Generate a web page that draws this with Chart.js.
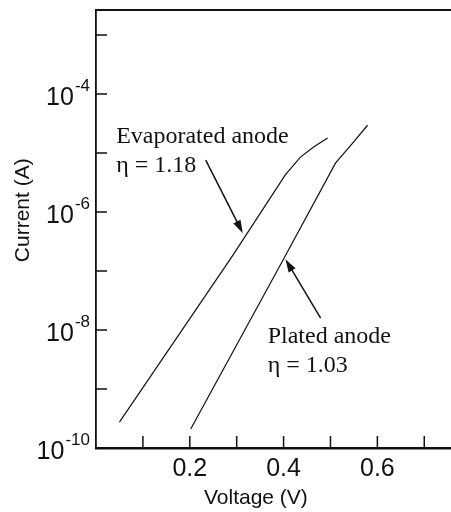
<!DOCTYPE html>
<html>
<head>
<meta charset="utf-8">
<script src="https://cdn.jsdelivr.net/npm/chart.js@4"></script>
<style>
  html, body { margin: 0; padding: 0; background: #fff; }
  #wrap { width: 451px; height: 512px; }
</style>
</head>
<body>
<div id="wrap"><canvas id="ivChart" width="451" height="512"></canvas></div>
<script>
// Evaporated anode, I-V trace
const evapVolts = [0.05, 0.291, 0.404, 0.436, 0.464, 0.494];
const evapAmps = [2.75e-10, 1.8e-7, 4.3e-6, 8.5e-6, 1.26e-5, 1.8e-5];

// Plated anode, I-V trace
const platedVolts = [0.202, 0.40, 0.511, 0.545, 0.579];
const platedAmps = [2.1e-10, 1.6e-7, 6.8e-6, 1.4e-5, 2.95e-5];

// Axis ticks (y labels are powers of ten: base + exponent)
const xTickValues = [0.1, 0.2, 0.3, 0.4, 0.5, 0.6, 0.7];
const xTickLabels = ['', '0.2', '', '0.4', '', '0.6', ''];
const yTickValues = [1e-10, 1e-9, 1e-8, 1e-7, 1e-6, 1e-5, 1e-4, 1e-3];
const yTickExponents = ['-10', '', '-8', '', '-6', '', '-4', ''];

// Labels with arrows pointing at each curve
const evapNote = ['Evaporated anode', 'η = 1.18'];
const platedNote = ['Plated anode', 'η = 1.03'];

const toPoints = (xs, ys) => xs.map((v, i) => ({ x: v, y: ys[i] }));

const notes = [
  { lines: evapNote, at: [0.043, 10 ** -4.83], from: [0.234, 10 ** -5.12], to: [0.313, 10 ** -6.36] },
  { lines: platedNote, at: [0.366, 10 ** -8.22], from: [0.479, 10 ** -7.80], to: [0.404, 10 ** -6.80] }
];

const SANS = '"Liberation Sans", Arial, sans-serif';

function arrow(ctx, x1, y1, x2, y2) {
  const ang = Math.atan2(y2 - y1, x2 - x1);
  const len = 13, half = 4;
  ctx.beginPath();
  ctx.moveTo(x1, y1);
  ctx.lineTo(x2 - Math.cos(ang) * len * 0.8, y2 - Math.sin(ang) * len * 0.8);
  ctx.stroke();
  ctx.beginPath();
  ctx.moveTo(x2, y2);
  ctx.lineTo(x2 - Math.cos(ang) * len - Math.sin(ang) * half, y2 - Math.sin(ang) * len + Math.cos(ang) * half);
  ctx.lineTo(x2 - Math.cos(ang) * len + Math.sin(ang) * half, y2 - Math.sin(ang) * len - Math.cos(ang) * half);
  ctx.closePath();
  ctx.fill();
}

const decorations = {
  id: 'decorations',
  afterDraw(chart) {
    const { ctx, chartArea: a, scales: { x, y } } = chart;
    ctx.save();
    ctx.strokeStyle = '#111';
    ctx.fillStyle = '#111';

    // top frame line
    ctx.lineWidth = 2;
    ctx.beginPath();
    ctx.moveTo(a.left, a.top);
    ctx.lineTo(a.right, a.top);
    ctx.stroke();

    // tick marks pointing into the plot
    ctx.lineWidth = 1.5;
    ctx.beginPath();
    yTickValues.forEach(v => {
      const py = y.getPixelForValue(v);
      ctx.moveTo(a.left, py);
      ctx.lineTo(a.left + 11, py);
    });
    xTickValues.forEach(v => {
      const px = x.getPixelForValue(v);
      ctx.moveTo(px, a.bottom);
      ctx.lineTo(px, a.bottom - 12);
    });
    ctx.stroke();

    // y tick labels as 10 with a raised exponent
    ctx.textAlign = 'left';
    ctx.textBaseline = 'alphabetic';
    yTickValues.forEach((v, i) => {
      const exp = yTickExponents[i];
      if (!exp) return;
      const py = y.getPixelForValue(v);
      ctx.font = '25px ' + SANS;
      const wBase = ctx.measureText('10').width;
      ctx.font = '17px ' + SANS;
      const wExp = ctx.measureText(exp).width;
      const left = a.left - 7 - wBase - wExp;
      ctx.font = '25px ' + SANS;
      ctx.fillText('10', left, py + 11);
      ctx.font = '17px ' + SANS;
      ctx.fillText(exp, left + wBase + 1, py - 3);
    });

    // curve labels
    ctx.font = '24px "Liberation Serif", "Times New Roman", serif';
    ctx.lineWidth = 1.5;
    notes.forEach(n => {
      const tx = x.getPixelForValue(n.at[0]);
      const ty = y.getPixelForValue(n.at[1]);
      n.lines.forEach((s, i) => ctx.fillText(s, tx, ty + i * 29));
      arrow(ctx,
        x.getPixelForValue(n.from[0]), y.getPixelForValue(n.from[1]),
        x.getPixelForValue(n.to[0]), y.getPixelForValue(n.to[1]));
    });

    // axis titles
    ctx.font = '21px ' + SANS;
    ctx.textAlign = 'center';
    ctx.textBaseline = 'middle';
    ctx.fillText('Voltage (V)', x.getPixelForValue(0.341), 498);
    ctx.translate(23, y.getPixelForValue(1.07e-6));
    ctx.rotate(-Math.PI / 2);
    ctx.fillText('Current (A)', 0, 0);
    ctx.restore();
  }
};

new Chart(document.getElementById('ivChart'), {
  type: 'line',
  data: {
    datasets: [
      {
        label: 'Evaporated anode',
        data: toPoints(evapVolts, evapAmps),
        borderColor: '#111',
        borderWidth: 1.2,
        pointRadius: 0,
        tension: 0
      },
      {
        label: 'Plated anode',
        data: toPoints(platedVolts, platedAmps),
        borderColor: '#111',
        borderWidth: 1.2,
        pointRadius: 0,
        tension: 0
      }
    ]
  },
  options: {
    responsive: false,
    animation: false,
    layout: { padding: { top: 10, right: 0, left: 0, bottom: 0 } },
    plugins: {
      legend: { display: false },
      tooltip: { enabled: false }
    },
    scales: {
      x: {
        type: 'linear',
        min: 0,
        max: 0.757,
        afterBuildTicks: (scale) => { scale.ticks = xTickValues.map(v => ({ value: v })); },
        afterFit: (scale) => { scale.height = 64; },
        grid: { display: false, drawTicks: false },
        border: { display: true, color: '#111', width: 2.5 },
        ticks: {
          padding: 6,
          maxRotation: 0,
          autoSkip: false,
          color: '#111',
          font: { family: SANS, size: 25 },
          callback: (v, i) => xTickLabels[i]
        }
      },
      y: {
        type: 'logarithmic',
        min: 1e-10,
        max: 2.65e-3,
        afterBuildTicks: (scale) => { scale.ticks = yTickValues.map(v => ({ value: v })); },
        afterFit: (scale) => { scale.width = 96; },
        grid: { display: false, drawTicks: false },
        border: { display: true, color: '#111', width: 1.8 },
        ticks: { display: false }
      }
    }
  },
  plugins: [decorations]
});
</script>
</body>
</html>
